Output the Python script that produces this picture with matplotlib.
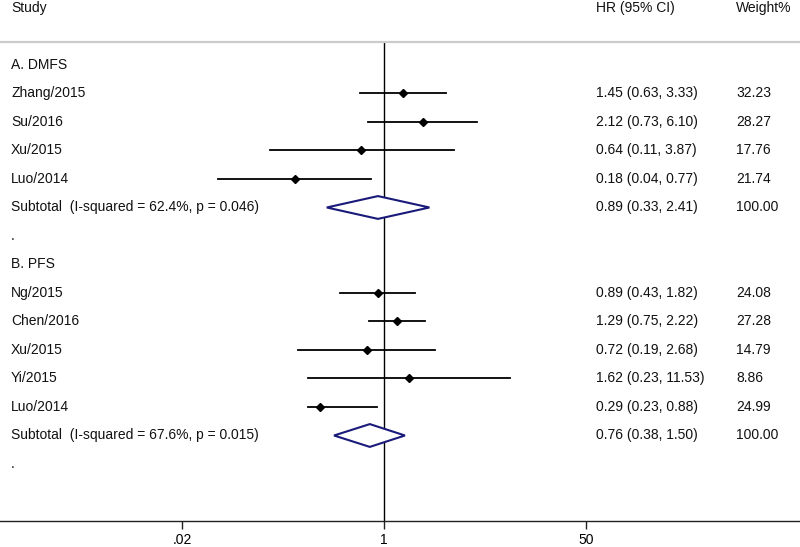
import matplotlib.pyplot as plt
import matplotlib.transforms as mtransforms

plt.rcParams['font.family'] = ['Liberation Sans', 'DejaVu Sans']

# A. DMFS
studies_a = ['Zhang/2015', 'Su/2016', 'Xu/2015', 'Luo/2014']
hr_a = [1.45, 2.12, 0.64, 0.18]
lo_a = [0.63, 0.73, 0.11, 0.04]
hi_a = [3.33, 6.10, 3.87, 0.77]
w_a = [32.23, 28.27, 17.76, 21.74]
sub_a = [0.89, 0.33, 2.41]
isq_a, p_a = '62.4%', '0.046'

# B. PFS
studies_b = ['Ng/2015', 'Chen/2016', 'Xu/2015', 'Yi/2015', 'Luo/2014']
hr_b = [0.89, 1.29, 0.72, 1.62, 0.29]
lo_b = [0.43, 0.75, 0.19, 0.23, 0.23]
hi_b = [1.82, 2.22, 2.68, 11.53, 0.88]
w_b = [24.08, 27.28, 14.79, 8.86, 24.99]
sub_b = [0.76, 0.38, 1.50]
isq_b, p_b = '67.6%', '0.015'

ticks = [0.02, 1, 50]
tick_labels = ['.02', '1', '50']

W, H = 800, 547
fig = plt.figure(figsize=(8, 5.47), dpi=100)
ax = fig.add_axes([0, 26 / H, 1, 521 / H])
ax.set_xscale('log')
# 1 at px 384, 118.9 px per decade
ax.set_xlim(10 ** (-384 / 118.9), 10 ** ((800 - 384) / 118.9))
ax.set_ylim(16.0, -2.28)

for s in ['top', 'left', 'right']:
    ax.spines[s].set_visible(False)
ax.spines['bottom'].set_color('#222222')
ax.spines['bottom'].set_linewidth(1.0)
ax.set_yticks([])
ax.set_xticks(ticks)
ax.set_xticklabels(tick_labels)
ax.minorticks_off()
ax.tick_params(axis='x', length=6, width=1, color='#222222', labelsize=10, pad=3)

tr = mtransforms.blended_transform_factory(fig.transFigure, ax.transData)
fs = 10
x_name, x_hr, x_w = 11 / W, 596 / W, 736 / W


def txt(x, y, s):
    ax.text(x, y, s, transform=tr, fontsize=fs, ha='left', va='center', color='#111111')


txt(x_name, -2.0, 'Study')
txt(x_hr, -2.0, 'HR (95% CI)')
txt(x_w, -2.0, 'Weight%')
ax.axhline(-0.79, color='#cccccc', lw=1.6, clip_on=False)
ax.plot([1, 1], [-0.79, 16.0], color='black', lw=1.0, zorder=1)


def group(y0, title, studies, hr, lo, hi, w, sub, isq, p):
    txt(x_name, y0, title)
    for i, name in enumerate(studies):
        y = y0 + 1 + i
        txt(x_name, y, name)
        ax.plot([lo[i], hi[i]], [y, y], color='black', lw=1.3, zorder=2)
        ax.plot(hr[i], y, marker='D', color='black', markersize=4.5, zorder=3)
        txt(x_hr, y, f'{hr[i]:.2f} ({lo[i]:.2f}, {hi[i]:.2f})')
        txt(x_w, y, f'{w[i]:.2f}')
    y = y0 + 1 + len(studies)
    txt(x_name, y, f'Subtotal  (I-squared = {isq}, p = {p})')
    est, l, h = sub
    ax.fill([l, est, h, est, l], [y, y - 0.4, y, y + 0.4, y],
            facecolor='white', edgecolor='#1a1a7a', lw=1.5, zorder=4)
    txt(x_hr, y, f'{est:.2f} ({l:.2f}, {h:.2f})')
    txt(x_w, y, '100.00')
    txt(x_name, y + 1, '.')


group(0, 'A. DMFS', studies_a, hr_a, lo_a, hi_a, w_a, sub_a, isq_a, p_a)
group(7, 'B. PFS', studies_b, hr_b, lo_b, hi_b, w_b, sub_b, isq_b, p_b)

fig.savefig('out.png', dpi=100, facecolor='white')
